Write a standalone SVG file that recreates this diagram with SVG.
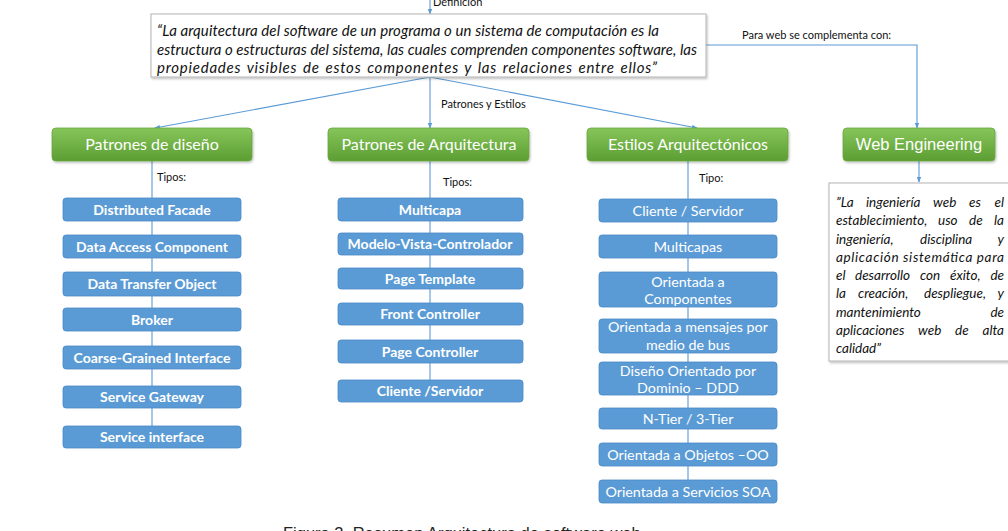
<svg xmlns="http://www.w3.org/2000/svg" width="1008" height="531" viewBox="0 0 1008 531">
<style>
.conn{stroke:#5b9bd5;stroke-width:1.1;fill:none}
.quote{fill:#fff;stroke:#b4b4b4;stroke-width:1}
.qt{font-family:Lato,"Open Sans",sans-serif;font-style:italic;font-size:15px;fill:#111}
.wq{font-family:Lato,"Open Sans",sans-serif;font-style:italic;font-size:13.5px;fill:#111}
.green{fill:url(#gg);stroke:#6aa63f;stroke-width:0.8}
.gt{font-family:Lato,"Open Sans",sans-serif;font-size:16px;fill:#fff;text-anchor:middle}
.blue{fill:#5b9bd5;stroke:#4a89c6;stroke-width:0.8}
.bt{font-family:Lato,"Open Sans",sans-serif;font-weight:bold;font-size:14px;fill:#fff;text-anchor:middle}
.rt{font-family:Lato,"Open Sans",sans-serif;font-size:14.3px;fill:#fff;text-anchor:middle}
.lbl{font-family:Lato,"Open Sans",sans-serif;font-size:11px;fill:#111}
</style>
<defs>
<linearGradient id="gg" x1="0" y1="0" x2="0" y2="1">
<stop offset="0" stop-color="#86c55a"/>
<stop offset="1" stop-color="#5c9e33"/>
</linearGradient>
<filter id="sh" x="-5%" y="-10%" width="110%" height="130%">
<feDropShadow dx="1" dy="1.5" stdDeviation="1.2" flood-color="#000" flood-opacity="0.25"/>
</filter>
<marker id="ar" viewBox="0 0 10 10" refX="9" refY="5" markerWidth="5" markerHeight="5" orient="auto">
<path d="M0,1 L10,5 L0,9 z" fill="#5b9bd5"/>
</marker>
</defs>
<rect width="1008" height="531" fill="#fff"/>

<g id="connectors">
<line class="conn" x1="430" y1="0" x2="430" y2="14" marker-end="url(#ar)"/>
<line class="conn" x1="430" y1="77" x2="155" y2="128" marker-end="url(#ar)"/>
<line class="conn" x1="430" y1="77" x2="430" y2="128" marker-end="url(#ar)"/>
<line class="conn" x1="430" y1="77" x2="697" y2="128" marker-end="url(#ar)"/>
<polyline class="conn" points="706,45 917,45 917,128" marker-end="url(#ar)"/>
<line class="conn" x1="919" y1="161" x2="919" y2="182" marker-end="url(#ar)"/>
<line class="conn" x1="152" y1="161" x2="152" y2="430"/>
<line class="conn" x1="430" y1="161" x2="430" y2="385"/>
<line class="conn" x1="688" y1="161" x2="688" y2="485"/>
</g>

<g id="labels">
<text class="lbl" x="433" y="6">Definición</text>
<text class="lbl" x="441" y="108">Patrones y Estilos</text>
<text class="lbl" x="742" y="39">Para web se complementa con:</text>
<text class="lbl" x="157" y="181">Tipos:</text>
<text class="lbl" x="443" y="186">Tipos:</text>
<text class="lbl" x="699" y="182">Tipo:</text>
</g>

<g id="definicion">
<rect class="quote" x="151" y="14" width="555" height="63" filter="url(#sh)"/>
<text class="qt" x="157" y="36" textLength="502" lengthAdjust="spacing">“La arquitectura del software de un programa o un sistema de computación es la</text>
<text class="qt" x="157" y="55" textLength="540" lengthAdjust="spacing">estructura o estructuras del sistema, las cuales comprenden componentes software, las</text>
<text class="qt" x="157" y="73" textLength="500" lengthAdjust="spacing" style="word-spacing:1.5px">propiedades visibles de estos componentes y las relaciones entre ellos”</text>
</g>

<g id="patrones-diseno">
<rect class="green" x="52" y="128" width="200" height="33" rx="4" filter="url(#sh)"/>
<text class="gt" x="152" y="150">Patrones de diseño</text>
</g>
<g id="patrones-arquitectura">
<rect class="green" x="328" y="128" width="201" height="33" rx="4" filter="url(#sh)"/>
<text class="gt" x="429" y="150">Patrones de Arquitectura</text>
</g>
<g id="estilos">
<rect class="green" x="587" y="128" width="201" height="33" rx="4" filter="url(#sh)"/>
<text class="gt" x="688" y="150">Estilos Arquitectónicos</text>
</g>
<g id="web-engineering">
<rect class="green" x="843" y="128" width="152" height="33" rx="4" filter="url(#sh)"/>
<text x="919" y="150" style="font-family:'Liberation Sans',Arial,sans-serif;font-size:16.5px;fill:#fff;text-anchor:middle">Web Engineering</text>
</g>

<g id="d1"><rect class="blue" x="63" y="198" width="178" height="23" rx="3"/><text class="bt" x="152" y="214.5">Distributed Facade</text></g>
<g id="d2"><rect class="blue" x="63" y="235" width="178" height="23" rx="3"/><text class="bt" x="152" y="251.5">Data Access Component</text></g>
<g id="d3"><rect class="blue" x="63" y="272" width="178" height="24" rx="3"/><text class="bt" x="152" y="289">Data Transfer Object</text></g>
<g id="d4"><rect class="blue" x="63" y="308" width="178" height="23" rx="3"/><text class="bt" x="152" y="324.5">Broker</text></g>
<g id="d5"><rect class="blue" x="63" y="346" width="178" height="23" rx="3"/><text class="bt" x="152" y="362.5">Coarse-Grained Interface</text></g>
<g id="d6"><rect class="blue" x="63" y="386" width="178" height="22" rx="3"/><text class="bt" x="152" y="402">Service Gateway</text></g>
<g id="d7"><rect class="blue" x="63" y="426" width="178" height="22" rx="3"/><text class="bt" x="152" y="442">Service interface</text></g>

<g id="a1"><rect class="blue" x="338" y="198" width="185" height="23" rx="3"/><text class="bt" x="430" y="214.5">Multicapa</text></g>
<g id="a2"><rect class="blue" x="338" y="233" width="185" height="22" rx="3"/><text class="bt" x="430" y="249">Modelo-Vista-Controlador</text></g>
<g id="a3"><rect class="blue" x="338" y="268" width="185" height="21" rx="3"/><text class="bt" x="430" y="283.5">Page Template</text></g>
<g id="a4"><rect class="blue" x="338" y="303" width="185" height="22" rx="3"/><text class="bt" x="430" y="319">Front Controller</text></g>
<g id="a5"><rect class="blue" x="338" y="340" width="185" height="23" rx="3"/><text class="bt" x="430" y="356.5">Page Controller</text></g>
<g id="a6"><rect class="blue" x="338" y="380" width="185" height="22" rx="3"/><text class="bt" x="430" y="396">Cliente /Servidor</text></g>

<g id="e1"><rect class="blue" x="599" y="199" width="178" height="23" rx="3"/><text class="rt" x="688" y="215.5">Cliente / Servidor</text></g>
<g id="e2"><rect class="blue" x="599" y="235" width="178" height="23" rx="3"/><text class="rt" x="688" y="251.5">Multicapas</text></g>
<g id="e3"><rect class="blue" x="599" y="272" width="178" height="35" rx="3"/><text class="rt" x="688" y="287">Orientada a</text><text class="rt" x="688" y="304">Componentes</text></g>
<g id="e4"><rect class="blue" x="599" y="319" width="178" height="34" rx="3"/><text class="rt" x="688" y="332">Orientada a mensajes por</text><text class="rt" x="688" y="349.5">medio de bus</text></g>
<g id="e5"><rect class="blue" x="599" y="362" width="178" height="33" rx="3"/><text class="rt" x="688" y="375.5">Diseño Orientado por</text><text class="rt" x="688" y="392.5">Dominio – DDD</text></g>
<g id="e6"><rect class="blue" x="599" y="408" width="178" height="21" rx="3"/><text class="rt" x="688" y="423.5">N-Tier / 3-Tier</text></g>
<g id="e7"><rect class="blue" x="599" y="443" width="178" height="23" rx="3"/><text class="rt" x="688" y="459.5">Orientada a Objetos –OO</text></g>
<g id="e8"><rect class="blue" x="599" y="480" width="178" height="23" rx="3"/><text class="rt" x="688" y="496.5">Orientada a Servicios SOA</text></g>

<g id="web-definicion">
<rect class="quote" x="829" y="183" width="185" height="178" filter="url(#sh)"/>
<text class="wq" y="207"><tspan x="836">”La</tspan><tspan x="866">ingeniería</tspan><tspan x="933">web</tspan><tspan x="969">es</tspan><tspan x="1004" text-anchor="end">el</tspan></text>
<text class="wq" y="225.3"><tspan x="836">establecimiento,</tspan><tspan x="938">uso</tspan><tspan x="969">de</tspan><tspan x="1004" text-anchor="end">la</tspan></text>
<text class="wq" y="243.5"><tspan x="836">ingeniería,</tspan><tspan x="920">disciplina</tspan><tspan x="1004" text-anchor="end">y</tspan></text>
<text class="wq" y="261.8" x="836" textLength="168" lengthAdjust="spacing">aplicación sistemática para</text>
<text class="wq" y="280"><tspan x="836">el</tspan><tspan x="855">desarrollo</tspan><tspan x="920">con</tspan><tspan x="950">éxito,</tspan><tspan x="1004" text-anchor="end">de</tspan></text>
<text class="wq" y="298.3"><tspan x="836">la</tspan><tspan x="858">creación,</tspan><tspan x="924">despliegue,</tspan><tspan x="1004" text-anchor="end">y</tspan></text>
<text class="wq" y="316.5"><tspan x="836">mantenimiento</tspan><tspan x="1004" text-anchor="end">de</tspan></text>
<text class="wq" y="334.8"><tspan x="836">aplicaciones</tspan><tspan x="918">web</tspan><tspan x="955">de</tspan><tspan x="1004" text-anchor="end">alta</tspan></text>
<text class="wq" y="353" x="836">calidad”</text>
</g>

<text x="283" y="539" style="font-family:'Liberation Sans',Arial,sans-serif;font-size:16.5px;fill:#222">Figura 3. Resumen Arquitectura de software web</text>
</svg>
